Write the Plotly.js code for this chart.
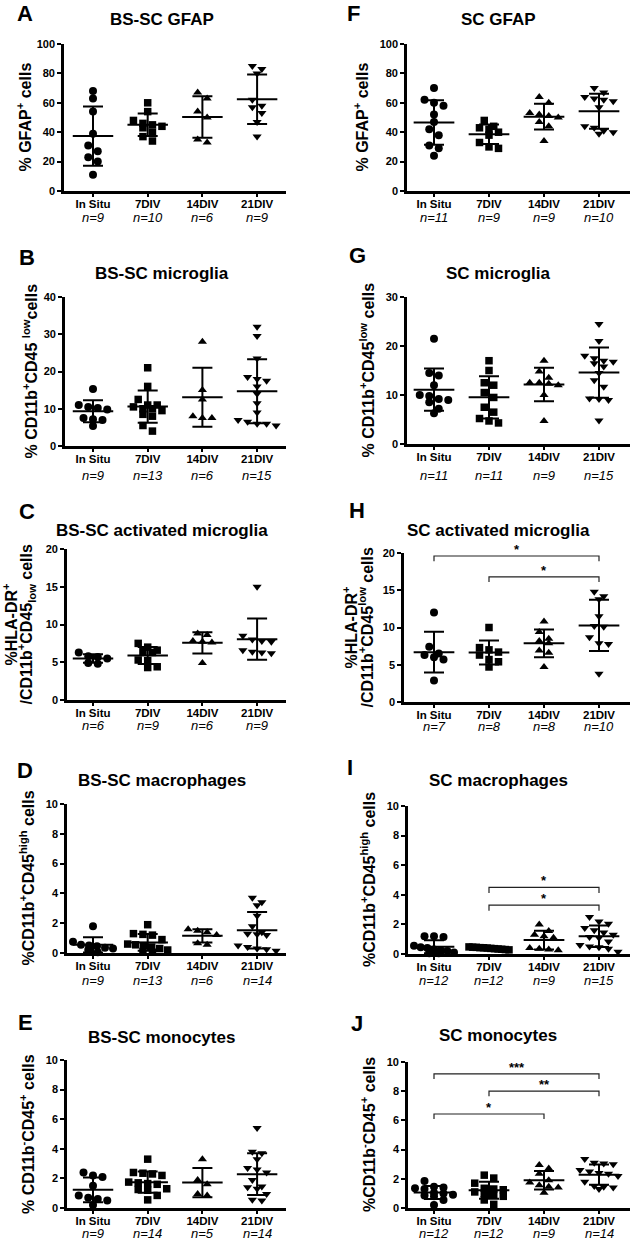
<!DOCTYPE html>
<html><head><meta charset="utf-8">
<script src="https://cdn.plot.ly/plotly-3.0.1.min.js"></script>
<style>html,body{margin:0;padding:0;background:#fff}#chart{width:630px;height:1240px}</style>
</head><body><div id="chart"></div>
<script>
// ---------- DATA ----------
const categories = ['In Situ', '7DIV', '14DIV', '21DIV'];

// A: BS-SC GFAP
const A_inSitu = [68, 63, 54, 39, 31, 27, 23, 20, 11];
const A_7div   = [60, 54, 48, 46, 45, 44, 43, 40, 37, 34];
const A_14div  = [67, 63, 54, 50, 35, 33];
const A_21div  = [85, 83, 80, 62, 58, 57, 53, 47, 37];
const nA = [9, 10, 6, 9];

// B: BS-SC microglia
const B_inSitu = [15.3, 11, 10.5, 10.2, 9.8, 7.5, 7.2, 7, 5.4];
const B_7div   = [21, 16, 12.5, 11, 11, 10.5, 10, 10, 9.5, 8.5, 8, 5.5, 4];
const B_14div  = [28, 15, 12.5, 8, 7.5, 7.5];
const B_21div  = [32, 29.5, 23.5, 18.5, 18, 17.5, 16, 14, 11.5, 9, 7, 6.5, 6, 6, 5.5];
const nB = [9, 13, 6, 15];

// C: BS-SC activated microglia
const C_inSitu = [6.3, 5.8, 5.7, 5.5, 4.9, 4.8];
const C_7div   = [7.5, 7, 6.6, 6.4, 6.3, 5.3, 5.2, 4.4, 4.3];
const C_14div  = [8.8, 8.6, 7.8, 7.7, 7.6, 4.9];
const C_21div  = [15, 8.5, 8, 7.8, 7.7, 6.6, 6.4, 6.3, 6.2];
const nC = [6, 9, 6, 9];

// D: BS-SC macrophages
const D_inSitu = [1.8, 0.75, 0.55, 0.5, 0.45, 0.35, 0.3, 0.2, 0.05];
const D_7div   = [1.9, 1.3, 1.25, 1.2, 0.9, 0.6, 0.55, 0.5, 0.4, 0.3, 0.2, 0.1, 0.05];
const D_14div  = [1.6, 1.5, 1.4, 1.2, 0.65, 0.55];
const D_21div  = [3.7, 3.4, 3.2, 2.5, 1.8, 1.4, 1.3, 1.25, 1.2, 0.5, 0.4, 0.3, 0.25, 0.15];
const nD = [9, 13, 6, 14];

// E: BS-SC monocytes
const E_inSitu = [2.4, 2.2, 2.1, 1.5, 0.85, 0.7, 0.6, 0.5, 0.2];
const E_7div   = [3.3, 2.4, 2.35, 2.3, 2.2, 1.75, 1.7, 1.65, 1.6, 1.3, 1.25, 1.2, 0.85, 0.55];
const E_14div  = [3.3, 1.9, 1.6, 0.95, 0.85];
const E_21div  = [5.4, 3.8, 3.7, 3.3, 2.7, 2.6, 2.4, 1.9, 1.45, 1.4, 1.3, 0.95, 0.55, 0.5];
const nE = [9, 14, 5, 14];

// F: SC GFAP
const F_inSitu = [70, 62, 60, 58, 52, 47, 42, 38, 31, 29, 24];
const F_7div   = [48, 44, 43, 42, 40, 38, 33, 30, 29];
const F_14div  = [64, 60, 53, 52, 51, 50, 47, 44, 34];
const F_21div  = [70, 67, 64, 63, 62, 61, 57, 44, 43, 41, 40, 39];
const nF = [11, 9, 9, 10];

// G: SC microglia
const G_inSitu = [21.5, 14.5, 14, 12, 10, 9.8, 9.2, 9, 8.5, 7.2, 6.3];
const G_7div   = [17, 15, 12.5, 12, 10.5, 9.5, 7.5, 6.5, 5.2, 4.7, 4.3];
const G_14div  = [17, 14.8, 13.5, 12.5, 12.5, 12.3, 12, 10, 4.7];
const G_21div  = [24.5, 21, 18, 17.5, 17, 16.8, 16.5, 15.8, 14.5, 13, 11.7, 9.3, 9.2, 9, 4.8];
const nG = [11, 11, 9, 15];

// H: SC activated microglia
const H_inSitu = [12, 7.4, 6.5, 6.3, 6, 5.7, 2.9];
const H_7div   = [10, 7.3, 7, 6.7, 6.3, 5.7, 5.4, 4.7];
const H_14div  = [10.8, 9.4, 8.5, 8.2, 7.9, 6.9, 6.6, 4.7];
const H_21div  = [14.8, 14.2, 13.8, 11.5, 10.2, 10.1, 8.7, 7.9, 7.8, 3.8];
const nH = [7, 8, 8, 10];
const sigH = [[0, 3, '*'], [1, 3, '*']];

// I: SC macrophages
const I_inSitu = [1.2, 1.2, 1.15, 0.55, 0.45, 0.4, 0.3, 0.25, 0.2, 0.1, 0.05, 0.05];
const I_7div   = [0.48, 0.46, 0.45, 0.43, 0.42, 0.4, 0.38, 0.36, 0.34, 0.32, 0.3, 0.28];
const I_14div  = [2.0, 1.55, 1.3, 1.2, 1.1, 0.4, 0.35, 0.3, 0.25];
const I_21div  = [2.5, 2.2, 2.05, 1.75, 1.6, 1.45, 1.3, 1.15, 1.1, 0.85, 0.6, 0.5, 0.45, 0.35, 0.15];
const nI = [12, 12, 9, 15];
const sigI = [[1, 3, '*'], [1, 3, '*']];

// J: SC monocytes
const J_inSitu = [1.85, 1.45, 1.4, 1.35, 1.3, 1.05, 1.0, 0.9, 0.85, 0.8, 0.55, 0.2];
const J_7div   = [2.25, 2.05, 1.7, 1.35, 1.3, 1.25, 1.1, 1.0, 0.9, 0.8, 0.55, 0.25];
const J_14div  = [2.95, 2.7, 2.35, 1.9, 1.75, 1.55, 1.45, 1.4, 1.05];
const J_21div  = [3.35, 3.1, 3.05, 3.0, 2.6, 2.5, 2.4, 2.35, 2.2, 1.8, 1.5, 1.45, 1.4, 1.3];
const nJ = [12, 12, 9, 14];
const sigJ = [[0, 3, '***'], [1, 3, '**'], [0, 2, '*']];

// ---------- LAYOUT CONFIG ----------
const W = 630, H = 1240;
const FONT = 'Liberation Sans, Arial, sans-serif';
const cols = [{cat0: 93, step: 54.7, right: 286, titleX: 162}, {cat0: 434, step: 55, right: 630, titleX: 498}];

const panels = [
  {letter:'A', lx:25, ly:13, title:'BS-SC GFAP', ty:20, ytitle:['% GFAP<sup>+</sup> cells'], ytx:[25], col:0, left:64, top:44, bottom:191, ymax:100, dtick:20, groups:[A_inSitu,A_7div,A_14div,A_21div], n:nA, ny:218},
  {letter:'B', lx:27, ly:257, title:'BS-SC microglia', ty:273, ytitle:['% CD11b<sup>+</sup>CD45 <sup>low</sup>cells'], ytx:[31], col:0, left:65, top:297, bottom:446, ymax:40, dtick:10, groups:[B_inSitu,B_7div,B_14div,B_21div], n:nB, ny:475},
  {letter:'C', lx:27, ly:512, title:'BS-SC activated microglia', ty:530, ytitle:['%HLA-DR<sup>+</sup>','/CD11b<sup>+</sup>CD45<sub>low</sub> cells'], ytx:[10,26], col:0, left:67, top:549, bottom:700, ymax:20, dtick:5, groups:[C_inSitu,C_7div,C_14div,C_21div], n:nC, ny:725},
  {letter:'D', lx:25, ly:770, title:'BS-SC macrophages', ty:780, ytitle:['%CD11b<sup>+</sup>CD45<sup>high</sup> cells'], ytx:[27], col:0, left:67, top:804, bottom:953, ymax:10, dtick:2, groups:[D_inSitu,D_7div,D_14div,D_21div], n:nD, ny:980},
  {letter:'E', lx:25, ly:1022, title:'BS-SC monocytes', ty:1037, ytitle:['% CD11b<sup>-</sup>CD45<sup>+</sup> cells'], ytx:[27], col:0, left:67, top:1060, bottom:1208, ymax:10, dtick:2, groups:[E_inSitu,E_7div,E_14div,E_21div], n:nE, ny:1233},
  {letter:'F', lx:353, ly:13, title:'SC GFAP', ty:20, ytitle:['% GFAP<sup>+</sup> cells'], ytx:[362], col:1, left:407, top:44, bottom:191, ymax:100, dtick:20, groups:[F_inSitu,F_7div,F_14div,F_21div], n:nF, ny:218},
  {letter:'G', lx:357, ly:255, title:'SC microglia', ty:273, ytitle:['% CD11b<sup>+</sup>CD45<sup>low</sup> cells'], ytx:[367], col:1, left:407, top:297, bottom:444, ymax:30, dtick:10, groups:[G_inSitu,G_7div,G_14div,G_21div], n:nG, ny:475},
  {letter:'H', lx:357, ly:510, title:'SC activated microglia', ty:530, ytitle:['%HLA-DR<sup>+</sup>','/CD11b<sup>+</sup>CD45<sup>low</sup> cells'], ytx:[350,366], col:1, left:404, top:553, bottom:702, ymax:20, dtick:5, groups:[H_inSitu,H_7div,H_14div,H_21div], n:nH, ny:726, sig:sigH, sigY:[19.6,16.8], drop:0.7},
  {letter:'I', lx:350, ly:767, title:'SC macrophages', ty:780, ytitle:['%CD11b<sup>+</sup>CD45<sup>high</sup> cells'], ytx:[368], col:1, left:408, top:806, bottom:954, ymax:10, dtick:2, groups:[I_inSitu,I_7div,I_14div,I_21div], n:nI, ny:980, sig:sigI, sigY:[4.5,3.3], drop:0.38},
  {letter:'J', lx:357, ly:1023, title:'SC monocytes', ty:1035, ytitle:['%CD11b<sup>-</sup>CD45<sup>+</sup> cells'], ytx:[368], col:1, left:408, top:1062, bottom:1208, ymax:10, dtick:2, groups:[J_inSitu,J_7div,J_14div,J_21div], n:nJ, ny:1233, sig:sigJ, sigY:[9.18,8.0,6.44], drop:0.34}
];

const symbols = ['circle', 'square', 'triangle-up', 'triangle-down'];
const msizes = [8, 7.5, 8, 8];

const mean = a => a.reduce((s, v) => s + v, 0) / a.length;
const sdev = a => { const m = mean(a); return Math.sqrt(a.reduce((s, v) => s + (v - m) * (v - m), 0) / (a.length - 1)); };

// GraphPad-like row spreading of points with similar values
function spread(vals, pxPerY, pxPerCat) {
  const order = vals.map((v, i) => i).sort((a, b) => vals[b] - vals[a]);
  const off = new Array(vals.length).fill(0);
  const rows = []; let row = [];
  order.forEach(i => {
    if (row.length && (vals[row[0]] - vals[i]) * pxPerY > 7) { rows.push(row); row = []; }
    row.push(i);
  });
  if (row.length) rows.push(row);
  rows.forEach(r => {
    const k = r.length;
    const sp = k > 1 ? Math.min(9.5, 40 / (k - 1)) : 0;
    r.forEach((i, j) => { off[i] = (j - (k - 1) / 2) * sp / pxPerCat; });
  });
  return off;
}

const traces = [], layout = {
  width: W, height: H, margin: {l: 0, r: 0, t: 0, b: 0}, showlegend: false,
  paper_bgcolor: '#fff', plot_bgcolor: 'rgba(0,0,0,0)', hovermode: false,
  font: {family: FONT, color: '#000'}, annotations: [], shapes: []
};

panels.forEach((p, k) => {
  const idx = k + 1;
  const xa = idx === 1 ? 'x' : 'x' + idx, ya = idx === 1 ? 'y' : 'y' + idx;
  const c = cols[p.col];
  const xr = [(p.left - c.cat0) / c.step, (c.right - c.cat0) / c.step];
  const pxPerY = (p.bottom - p.top) / p.ymax;
  layout['xaxis' + (idx === 1 ? '' : idx)] = {
    domain: [p.left / W, c.right / W], range: xr, anchor: ya,
    tickvals: [0, 1, 2, 3], ticktext: categories,
    showline: true, linewidth: 2.8, linecolor: '#000', ticks: 'outside', ticklen: 3, tickwidth: 2, tickcolor: '#000',
    ticklabelstandoff: -3,
    tickfont: {family: FONT, size: 11.5, color: '#000', weight: 'bold'},
    showgrid: false, zeroline: false, fixedrange: true
  };
  layout['yaxis' + (idx === 1 ? '' : idx)] = {
    domain: [1 - p.bottom / H, 1 - p.top / H], range: [0, p.ymax], anchor: xa,
    tick0: 0, dtick: p.dtick,
    showline: true, linewidth: 2.8, linecolor: '#000', ticks: 'outside', ticklen: 4, tickwidth: 2, tickcolor: '#000',
    tickfont: {family: FONT, size: 11, color: '#000', weight: 'bold'},
    showgrid: false, zeroline: false, fixedrange: true
  };
  p.groups.forEach((vals, g) => {
    const off = spread(vals, pxPerY, c.step);
    traces.push({
      type: 'scatter', mode: 'markers', xaxis: xa, yaxis: ya, cliponaxis: false,
      x: vals.map((v, i) => g + off[i]), y: vals,
      marker: {symbol: symbols[g], size: msizes[g], color: '#000', line: {width: 0}}
    });
  });
  traces.push({
    type: 'scatter', mode: 'markers', xaxis: xa, yaxis: ya, cliponaxis: false,
    x: [0, 1, 2, 3], y: p.groups.map(mean),
    marker: {size: 1, opacity: 0},
    error_y: {type: 'data', array: p.groups.map(sdev), visible: true, color: '#000', thickness: 2, width: 10},
    error_x: {type: 'constant', value: 0.37, visible: true, color: '#000', thickness: 2, width: 0}
  });
  // panel letter
  layout.annotations.push({xref: 'paper', yref: 'paper', x: p.lx / W, y: 1 - p.ly / H, xanchor: 'center', yanchor: 'middle',
    text: '<b>' + p.letter + '</b>', showarrow: false, font: {family: FONT, size: 22, color: '#000'}});
  // title
  layout.annotations.push({xref: 'paper', yref: 'paper', x: c.titleX / W, y: 1 - p.ty / H, xanchor: 'center', yanchor: 'middle',
    text: '<b>' + p.title + '</b>', showarrow: false, font: {family: FONT, size: 17, color: '#000'}});
  // y titles
  p.ytitle.forEach((t, j) => {
    layout.annotations.push({xref: 'paper', yref: 'paper', x: p.ytx[j] / W, y: 1 - (p.top + p.bottom) / 2 / H,
      xanchor: 'center', yanchor: 'middle', textangle: -90,
      text: '<b>' + t + '</b>', showarrow: false, font: {family: FONT, size: 16, color: '#000'}});
  });
  // n labels
  p.n.forEach((nv, g) => {
    layout.annotations.push({xref: xa, yref: 'paper', x: g, y: 1 - p.ny / H, xanchor: 'center', yanchor: 'middle',
      text: '<i>n=' + nv + '</i>', showarrow: false, font: {family: FONT, size: 13, color: '#000'}});
  });
  // significance brackets
  if (p.sig) {
    p.sig.forEach((s, j) => {
      const y = p.sigY[j], yb = y - p.drop;
      layout.shapes.push({type: 'path', xref: xa, yref: ya, path: `M ${s[0]},${yb} L ${s[0]},${y} L ${s[1]},${y} L ${s[1]},${yb}`,
        line: {color: '#222', width: 1.2}});
      layout.annotations.push({xref: xa, yref: ya, x: (s[0] + s[1]) / 2, y: y, xanchor: 'center', yanchor: 'bottom', yshift: -3,
        text: '<b>' + s[2] + '</b>', showarrow: false, font: {family: FONT, size: 13, color: '#000'}});
    });
  }
});

Plotly.newPlot('chart', traces, layout, {staticPlot: true, displayModeBar: false});
</script>
</body></html>
